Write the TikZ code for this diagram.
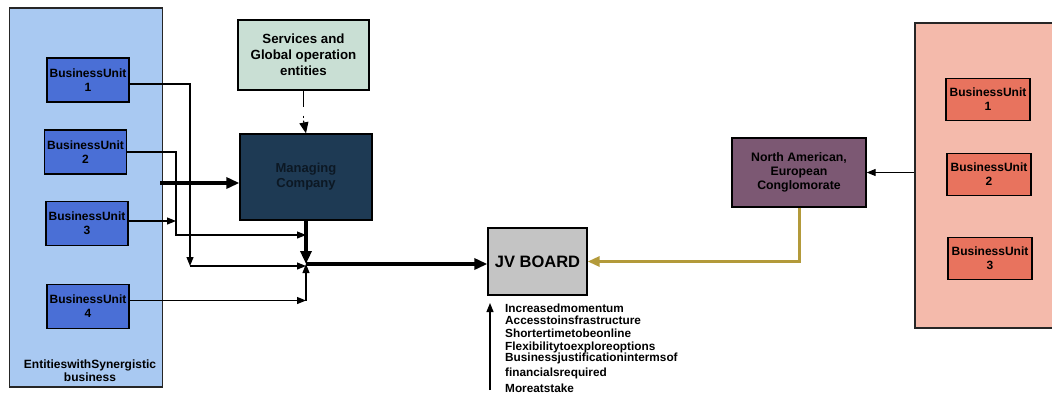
\documentclass[tikz,border=0pt]{standalone}
\usepackage{fontspec}
\setmainfont{Liberation Sans}
\usetikzlibrary{arrows.meta}
\definecolor{leftbg}{HTML}{A9C9F2}
\definecolor{unitblue}{HTML}{4A6FD6}
\definecolor{svcgreen}{HTML}{C9DFD4}
\definecolor{mcnavy}{HTML}{1E3A54}
\definecolor{mctext}{HTML}{0C1824}
\definecolor{jvgray}{HTML}{C4C4C4}
\definecolor{namauve}{HTML}{7C5873}
\definecolor{rightbg}{HTML}{F4BAAB}
\definecolor{unitred}{HTML}{E8735E}
\definecolor{goldline}{HTML}{B39A3A}
\tikzset{
  box/.style={draw=black, line width=1.3pt, inner sep=0pt, align=center,
    font=\bfseries\fontsize{12}{14}\selectfont},
  container/.style={draw=black!85, line width=1.2pt, inner sep=0pt},
  unitL/.style={box, fill=unitblue, minimum width=82, minimum height=44},
  unitR/.style={box, fill=unitred, minimum width=84, minimum height=42},
  thinarrow/.style={line width=1.1pt, -{Triangle[length=9pt,width=7pt]}},
  thickarrow/.style={line width=3.2pt, -{Triangle[length=13pt,width=11pt]}},
  listtext/.style={anchor=west, inner sep=0pt, font=\bfseries\fontsize{11.8}{13}\selectfont}
}
\begin{document}
\begin{tikzpicture}[x=1pt,y=-1pt]
\useasboundingbox (0,0) rectangle (1052,394);

% left group of business units
\node[container, fill=leftbg, minimum width=153, minimum height=379] (left) at (86,197.5) {};
\node[unitL] (bu1) at (88,80) {BusinessUnit\\1};
\node[unitL] (bu2) at (85.5,152) {BusinessUnit\\2};
\node[unitL] (bu3) at (87,223.5) {BusinessUnit\\3};
\node[unitL] (bu4) at (88,306.5) {BusinessUnit\\4};
\node[align=center, inner sep=0pt, font=\bfseries\fontsize{12}{13}\selectfont] (lefttitle) at (90,371)
  {EntitieswithSynergistic\\business};

% managing side
\node[box, fill=svcgreen, minimum width=131, minimum height=70,
  font=\bfseries\fontsize{13.3}{16}\selectfont] (svc) at (303.5,55)
  {Services and\\Global operation\\entities};
\node[box, fill=mcnavy, minimum width=132, minimum height=86,
  font=\bfseries\fontsize{13}{15}\selectfont, text=mctext] (mc) at (306,177) {Managing\\Company};

% joint venture board
\node[box, fill=jvgray, minimum width=99, minimum height=67,
  font=\bfseries\fontsize{16.5}{18}\selectfont] (jv) at (537.5,261.5) {JV BOARD};

% partner side
\node[box, fill=namauve, minimum width=134, minimum height=69,
  font=\bfseries\fontsize{12.3}{14}\selectfont] (na) at (799,172.5)
  {North American,\\European\\Conglomorate};
\node[container, fill=rightbg, minimum width=150, minimum height=305] (right) at (990,175.5) {};
\node[unitR] (ru1) at (988,99.5) {BusinessUnit\\1};
\node[unitR] (ru2) at (989,174.5) {BusinessUnit\\2};
\node[unitR] (ru3) at (990,258.5) {BusinessUnit\\3};

% junction points
\coordinate (j) at (306,264);
\coordinate (o1) at ([yshift=-4pt]bu1.east);
\coordinate (o3) at ([yshift=2.5pt]bu3.east);
\coordinate (o4) at ([yshift=6pt]bu4.east);
\coordinate (c1) at (190,266);
\coordinate (c2) at (176,235);
\coordinate (c4) at (o4 -| j);
\coordinate (tin) at (160,183);
\coordinate (dd) at ([yshift=-30pt]svc.south);

% unit feeds
\draw[thinarrow] (o1) -| (c1);
\draw[thinarrow] (c1) -- (c1 -| j);
\draw[thinarrow] (bu2.east) -| (c2) -- (c2 -| j);
\draw[thinarrow] (o3) -- (o3 -| c2);
\draw[thinarrow] (o4) -- (c4);
\draw[thinarrow] (c4) -- (j);

% main flows
\draw[thickarrow] (tin) -- (tin -| mc.west);
\draw[line width=1.2pt, dash pattern=on 16pt off 9pt on 2.5pt off 10pt] (svc.south) -- (dd);
\draw[line width=1.2pt, -{Triangle[length=11pt,width=9pt]}] (dd) -- (mc.north);
\draw[thickarrow] (mc.south) -- (j);
\draw[thickarrow] (j) -- (j -| jv.west);
\draw[line width=3pt, draw=goldline, -{Triangle[length=12pt,width=10pt]}] (na.south) |- (jv.east);
\draw[thinarrow] (na.east -| right.west) -- (na.east);

% benefits list
\coordinate (ub) at (490,390);
\coordinate (ut) at (490,303);
\draw[thinarrow] (ub) -- (ut);
\node[listtext] (l1) at (505,308) {Increasedmomentum};
\node[listtext] (l2) at (505,320) {Accesstoinsfrastructure};
\node[listtext] (l3) at (505,333) {Shortertimetobeonline};
\node[listtext] (l4) at (505,347) {Flexibilitytoexploreoptions};
\node[listtext] (l5) at (505,358) {Businessjustificationintermsof};
\node[listtext] (l6) at (505,373) {financialsrequired};
\node[listtext] (l7) at (505,388) {Moreatstake};
\end{tikzpicture}
\end{document}
